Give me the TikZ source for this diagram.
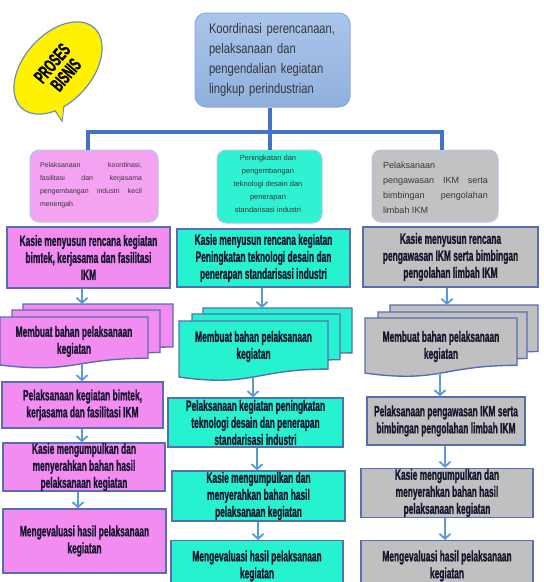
\documentclass[tikz,border=0pt]{standalone}
\usepackage{fontspec}
\setmainfont{Liberation Sans}
\newfontfamily\cbf[FakeStretch=0.56,FakeBold=1]{Liberation Sans}
\newfontfamily\topf[FakeStretch=0.8]{Liberation Sans}
\newfontfamily\smf{Liberation Sans}
\usetikzlibrary{arrows.meta}
\definecolor{treeblue}{RGB}{68,114,196}
\definecolor{arrblue}{RGB}{91,155,213}
\definecolor{boxline}{RGB}{88,110,178}
\definecolor{rline}{RGB}{180,199,231}
\definecolor{pinkL}{RGB}{244,162,242}
\definecolor{pinkC}{RGB}{242,140,240}
\definecolor{cyanL}{RGB}{46,242,210}
\definecolor{cyanC}{RGB}{38,242,208}
\definecolor{grayL}{RGB}{194,194,194}
\definecolor{grayC}{RGB}{192,192,192}
\definecolor{txt}{RGB}{22,22,46}
\definecolor{smtxt}{RGB}{55,55,55}
\definecolor{topA}{RGB}{170,197,235}
\definecolor{topB}{RGB}{144,176,221}
\definecolor{topline}{RGB}{143,170,220}
\definecolor{bubline}{RGB}{110,140,190}
\newcommand\mdoc[5]{\filldraw[draw=boxline,line width=1.4,fill=#5] (#1,#3) -- (#2,#3) -- (#2,{#3+0.802*#4}) .. controls ({(#1+#2)/2},{#3+0.802*#4}) and ({(#1+#2)/2},{#3+1.107*#4}) .. (#1,{#3+0.934*#4}) -- cycle;}
\tikzset{
  tree/.style={draw=treeblue,line width=4},
  arr/.style={draw=arrblue,line width=1.8,-{Straight Barb[length=5pt,width=11pt]}},
  box/.style={draw=boxline,line width=1.4,inner sep=0,align=center,text=txt,font=\cbf\bfseries\fontsize{15}{17}\selectfont},
  rbox/.style={draw=rline,line width=1,rounded corners=9,inner sep=0},
  doctext/.style={inner sep=0,align=center,text=txt,font=\cbf\bfseries\fontsize{15}{17}\selectfont},
}
\begin{document}
\begin{tikzpicture}[x=1pt,y=-1pt]
\useasboundingbox (0,0) rectangle (544,582);
\clip (0,0) rectangle (544,582);
\fill[white] (0,0) rectangle (544,582);
% speech bubble
\filldraw[draw=bubline,line width=1.2,fill=yellow] (50,103) -- (62,121) -- (64,105);
\fill[yellow] [rotate around={48:(58,68)}] (58,68) ellipse [x radius=54,y radius=34];
\draw[bubline,line width=1.2] [rotate around={48:(58,68)}] (58,68) ellipse [x radius=54,y radius=34];
\fill[yellow] (51,103.5) -- (62,119.5) -- (63.3,105.5) -- cycle;
\node[rotate=50,align=center,inner sep=0,font=\cbf\bfseries\fontsize{19}{18}\selectfont,text=black] (bub) at (59,69) {PROSES\\BISNIS};
% top box
\node[draw=topline,line width=1,rounded corners=11,top color=topA,bottom color=topB,minimum width=155,minimum height=94,inner sep=0] (top) at (272.5,60) {};
\node[inner sep=0,text width=130,align=left,text=smtxt,font=\topf\fontsize{14}{20}\selectfont] (toptext) at (274,59.5) {Koordinasi perencanaan,\\pelaksanaan dan\\pengendalian kegiatan\\lingkup perindustrian};
% level 2
\node[rbox,fill=pinkL,minimum width=128,minimum height=72] (s1) at (94,186) {};
\node[inner sep=0,text width=102,align=justify,text=smtxt,font=\smf\fontsize{7}{13}\selectfont] (s1t) at (91,185) {Pelaksanaan koordinasi,\linebreak fasilitasi dan kerjasama\linebreak pengembangan industri kecil\linebreak menengah};
\node[rbox,fill=cyanL,minimum width=105,minimum height=73] (s2) at (269.5,186.5) {};
\node[inner sep=0,align=center,text=smtxt,font=\smf\fontsize{7.5}{13}\selectfont] (s2t) at (268,184) {Peningkatan dan\\pengembangan\\teknologi desain dan\\penerapan\\standarisasi industri};
\node[rbox,fill=grayL,minimum width=126,minimum height=72] (s3) at (435,186) {};
\node[inner sep=0,text width=105,align=justify,text=smtxt,font=\smf\fontsize{9}{15}\selectfont] (s3t) at (435.5,187.5) {Pelaksanaan\\pengawasan IKM serta\linebreak bimbingan pengolahan\linebreak limbah IKM};
% tree connectors
\coordinate (hL) at (88,132);
\coordinate (hM) at (270,132);
\coordinate (hR) at (442,132);
\draw[tree] (top.south -| hM) -- (hM);
\draw[tree] (hL |- s1.north) -- (hL) -- (hR) -- (hR |- s3.north);
\draw[tree] (hM) -- (hM |- s2.north);
% level 3
\node[box,fill=pinkC,minimum width=163,minimum height=61] (p3) at (88.5,257.5) {Kasie menyusun rencana kegiatan\\bimtek, kerjasama dan fasilitasi\\IKM};
\node[box,fill=cyanC,minimum width=173,minimum height=58] (c3) at (263.5,258) {Kasie menyusun rencana kegiatan\\Peningkatan teknologi desain dan\\penerapan standarisasi industri};
\node[box,fill=grayC,minimum width=175,minimum height=60] (g3) at (450.5,257) {Kasie menyusun rencana\\pengawasan IKM serta bimbingan\\pengolahan limbah IKM};
% level 4 multi-documents
\mdoc{23}{173}{304}{53.6}{pinkC}
\mdoc{12}{160}{310}{53}{pinkC}
\mdoc{0}{148}{317}{51.4}{pinkC}
\mdoc{203}{352}{308}{56}{cyanC}
\mdoc{192}{340}{314}{57}{cyanC}
\mdoc{179}{328}{321}{60}{cyanC}
\mdoc{390}{538}{305}{58}{grayC}
\mdoc{378}{527}{312}{58}{grayC}
\mdoc{365}{517}{318}{59}{grayC}
\node[doctext] (pd) at (74,341.5) {Membuat bahan pelaksanaan\\kegiatan};
\node[doctext] (cd) at (253.5,346.5) {Membuat bahan pelaksanaan\\kegiatan};
\node[doctext] (gd) at (441,346.5) {Membuat bahan pelaksanaan\\kegiatan};
\coordinate (pdt) at (82,304);
\coordinate (cdt) at (262,308);
\coordinate (gdt) at (447,305);
\coordinate (pdb) at (82,364);
\coordinate (cdb) at (253,377);
\coordinate (gdb) at (440,373);
% level 5
\node[box,fill=pinkC,minimum width=161,minimum height=46] (p5) at (82.5,405) {Pelaksanaan kegiatan bimtek,\\kerjasama dan fasilitasi IKM};
\node[box,fill=cyanC,minimum width=175,minimum height=49] (c5) at (255.5,422.5) {Pelaksanaan kegiatan peningkatan\\teknologi desain dan penerapan\\standarisasi industri};
\node[box,fill=grayC,minimum width=158,minimum height=48] (g5) at (446,421) {Pelaksanaan pengawasan IKM serta\\bimbingan pengolahan limbah IKM};
% level 6
\node[box,fill=pinkC,minimum width=162,minimum height=46] (p6) at (84,467) {Kasie mengumpulkan dan\\menyerahkan bahan hasil\\pelaksanaan kegiatan};
\node[box,fill=cyanC,minimum width=173,minimum height=50] (c6) at (258.5,496) {Kasie mengumpulkan dan\\menyerahkan bahan hasil\\pelaksanaan kegiatan};
\node[box,fill=grayC,minimum width=172,minimum height=49] (g6) at (447,493) {Kasie mengumpulkan dan\\menyerahkan bahan hasil\\pelaksanaan kegiatan};
% level 7
\node[box,fill=pinkC,minimum width=163,minimum height=64] (p7) at (84.5,541) {Mengevaluasi hasil pelaksanaan\\kegiatan};
\node[box,fill=cyanC,minimum width=172,minimum height=52,anchor=north] (c7) at (257,540) {};
\node[doctext] (c7t) at (257,566) {Mengevaluasi hasil pelaksanaan\\kegiatan};
\node[box,fill=grayC,minimum width=172,minimum height=52,anchor=north] (g7) at (447,540) {};
\node[doctext] (g7t) at (447,566) {Mengevaluasi hasil pelaksanaan\\kegiatan};
% arrows
\coordinate (xP) at (82,0);
\coordinate (xPb) at (78,0);
\coordinate (xC1) at (262,0);
\coordinate (xC2) at (253,0);
\coordinate (xC3) at (257,0);
\coordinate (xC4) at (258,0);
\coordinate (xG1) at (447,0);
\coordinate (xG2) at (440,0);
\coordinate (xG3) at (445,0);
\draw[arr] (p3.south -| xP) -- (pdt);
\draw[arr] (pdb) -- (p5.north -| xP);
\draw[arr] (p5.south -| xP) -- (p6.north -| xP);
\draw[arr] (p6.south -| xPb) -- (p7.north -| xPb);
\draw[arr] (c3.south -| xC1) -- (cdt);
\draw[arr] (cdb) -- (c5.north -| xC2);
\draw[arr] (c5.south -| xC3) -- (c6.north -| xC3);
\draw[arr] (c6.south -| xC4) -- (c7.north -| xC4);
\draw[arr] (g3.south -| xG1) -- (gdt);
\draw[arr] (gdb) -- (g5.north -| xG2);
\draw[arr] (g5.south -| xG3) -- (g6.north -| xG3);
\draw[arr] (g6.south -| xG3) -- (g7.north -| xG3);
\end{tikzpicture}
\end{document}
